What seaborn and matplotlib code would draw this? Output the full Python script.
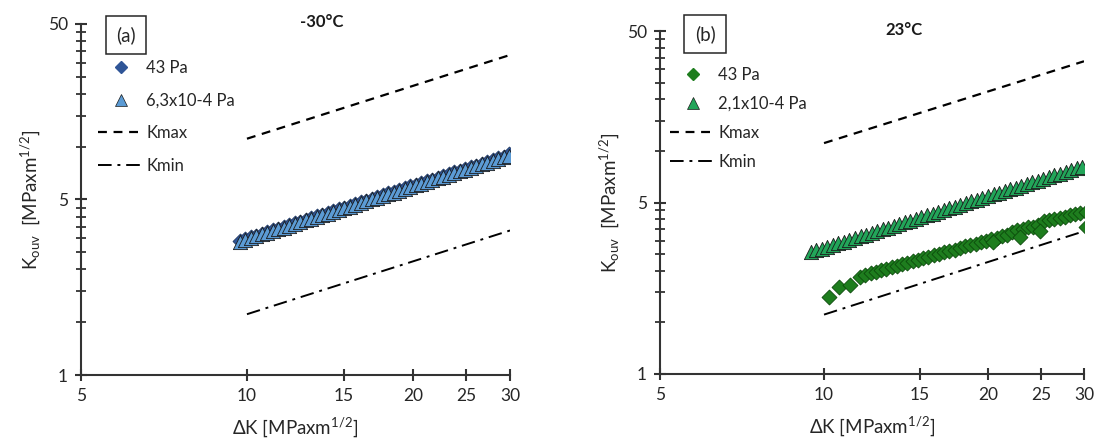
import matplotlib
matplotlib.use("Agg")
import matplotlib.pyplot as plt
from matplotlib.lines import Line2D
from matplotlib.ticker import FixedLocator, FixedFormatter, NullFormatter
import seaborn as sns

# ---------------- data ----------------
# panel (a) -30°C
dk_a = [9.70, 9.93, 10.16, 10.39, 10.63, 10.88, 11.13, 11.39, 11.66, 11.93,
        12.21, 12.49, 12.78, 13.08, 13.38, 13.69, 14.01, 14.34, 14.67, 15.01,
        15.36, 15.72, 16.08, 16.46, 16.84, 17.23, 17.63, 18.04, 18.46, 18.89,
        19.33, 19.78, 20.24, 20.71, 21.19, 21.69, 22.19, 22.71, 23.24, 23.78,
        24.33, 24.90, 25.48, 26.07, 26.68, 27.30, 27.93, 28.58, 29.25, 29.93]
k_a_43 = [2.90, 2.97, 3.04, 3.11, 3.18, 3.26, 3.33, 3.41, 3.49, 3.57,
          3.66, 3.74, 3.83, 3.92, 4.01, 4.10, 4.20, 4.30, 4.40, 4.50,
          4.60, 4.71, 4.82, 4.93, 5.05, 5.17, 5.29, 5.41, 5.53, 5.66,
          5.79, 5.93, 6.07, 6.21, 6.35, 6.50, 6.65, 6.81, 6.97, 7.13,
          7.30, 7.47, 7.64, 7.81, 7.99, 8.18, 8.37, 8.57, 8.78, 9.05]
k_a_vac = [2.88, 2.95, 3.02, 3.09, 3.16, 3.23, 3.31, 3.38, 3.46, 3.54,
           3.63, 3.71, 3.80, 3.88, 3.97, 4.07, 4.16, 4.26, 4.36, 4.46,
           4.56, 4.67, 4.78, 4.89, 5.00, 5.12, 5.24, 5.36, 5.48, 5.61,
           5.74, 5.87, 6.01, 6.15, 6.29, 6.44, 6.59, 6.74, 6.90, 7.06,
           7.23, 7.40, 7.57, 7.74, 7.92, 8.11, 8.30, 8.49, 8.69, 8.89]
dk_line_a = [10.0, 30.0]
kmax_a = [11.1, 33.3]
kmin_a = [1.11, 3.33]

# panel (b) 23°C
dk_b_43 = [10.20, 10.66, 11.14, 11.65, 11.91, 12.18, 12.45, 12.73, 13.02, 13.31,
           13.61, 13.91, 14.22, 14.54, 14.87, 15.20, 15.54, 15.89, 16.25, 16.61,
           16.98, 17.36, 17.75, 18.15, 18.56, 18.97, 19.40, 19.83, 20.28, 20.73,
           21.20, 21.67, 22.16, 22.65, 23.16, 23.68, 24.21, 24.75, 25.31, 25.87,
           26.45, 27.05, 27.65, 28.27, 28.91, 29.55, 30.20,
           20.40, 22.90, 24.96, 30.20]
k_b_43 = [1.40, 1.60, 1.66, 1.84, 1.90, 1.94, 1.97, 2.01, 2.05, 2.10,
          2.14, 2.18, 2.22, 2.27, 2.31, 2.36, 2.41, 2.46, 2.51, 2.56,
          2.61, 2.66, 2.71, 2.77, 2.82, 2.88, 2.94, 3.00, 3.06, 3.12,
          3.18, 3.25, 3.38, 3.45, 3.52, 3.58, 3.62, 3.70, 3.90, 3.96,
          4.02, 4.08, 4.14, 4.20, 4.27, 4.34, 4.40,
          2.94, 3.15, 3.41, 3.60]
dk_b_vac = [9.45, 9.67, 9.90, 10.14, 10.38, 10.62, 10.88, 11.13, 11.40, 11.67,
            11.94, 12.23, 12.52, 12.81, 13.12, 13.43, 13.74, 14.07, 14.40, 14.74,
            15.09, 15.45, 15.82, 16.19, 16.58, 16.97, 17.37, 17.78, 18.20, 18.64,
            19.08, 19.53, 19.99, 20.47, 20.95, 21.45, 21.96, 22.48, 23.01, 23.55,
            24.11, 24.68, 25.27, 25.87, 26.48, 27.11, 27.75, 28.41, 29.08, 29.77]
k_b_vac = [2.57, 2.63, 2.69, 2.76, 2.82, 2.89, 2.96, 3.03, 3.10, 3.17,
           3.25, 3.33, 3.41, 3.48, 3.57, 3.65, 3.74, 3.83, 3.92, 4.01,
           4.10, 4.20, 4.30, 4.40, 4.51, 4.62, 4.72, 4.84, 4.95, 5.07,
           5.19, 5.31, 5.44, 5.57, 5.70, 5.83, 5.97, 6.11, 6.26, 6.41,
           6.56, 6.71, 6.87, 7.04, 7.20, 7.37, 7.55, 7.73, 7.91, 8.10]
dk_line_b = [10.0, 30.0]
kmax_b = [11.1, 33.3]
kmin_b = [1.11, 3.40]

x_ticks = [5, 10, 15, 20, 25, 30]
x_ticklabels = ["5", "10", "15", "20", "25", "30"]
y_ticks = [0.5, 5, 50]
y_ticklabels = ["1", "5", "50"]
y_minor = [1, 1.5, 2, 2.5, 3, 3.5, 4, 4.5, 10, 15, 20, 25, 30, 35, 40, 45]

# ---------------- style ----------------
sns.set_theme(style="white")
spine_col = "#333333"
plt.rcParams.update({
    "font.family": ["Lato", "DejaVu Sans"],
    "mathtext.fontset": "custom",
    "mathtext.rm": "Lato",
    "mathtext.it": "Lato:italic",
    "xtick.labelsize": 12.5, "ytick.labelsize": 12.5,
})

W, H = 1098, 443
fig = plt.figure(figsize=(W / 100, H / 100), dpi=100)

def ax_rect(l, t, r, b):
    return [l / W, 1 - b / H, (r - l) / W, (b - t) / H]

axA = fig.add_axes(ax_rect(81, 24, 510, 375))
axB = fig.add_axes(ax_rect(660, 31, 1084, 374))

def style_axis(ax):
    ax.set_xscale("log")
    ax.set_yscale("log")
    ax.set_xlim(5, 30)
    ax.set_ylim(0.5, 50)
    ax.xaxis.set_major_locator(FixedLocator(x_ticks))
    ax.xaxis.set_major_formatter(FixedFormatter(x_ticklabels))
    ax.xaxis.set_minor_locator(FixedLocator([]))
    ax.xaxis.set_minor_formatter(NullFormatter())
    ax.yaxis.set_major_locator(FixedLocator(y_ticks))
    ax.yaxis.set_major_formatter(FixedFormatter(y_ticklabels))
    ax.yaxis.set_minor_locator(FixedLocator(y_minor))
    ax.yaxis.set_minor_formatter(NullFormatter())
    for s in ["top", "right"]:
        ax.spines[s].set_visible(False)
    for s in ["left", "bottom"]:
        ax.spines[s].set_color(spine_col)
        ax.spines[s].set_linewidth(1.5)
    ax.tick_params(axis="both", which="both", bottom=True, left=True,
                   top=False, right=False, direction="inout", color=spine_col,
                   labelcolor="#262626")
    ax.tick_params(axis="both", which="major", length=9, width=1.5, pad=5)
    ax.tick_params(axis="y", which="minor", length=7, width=1.3)
    ax.set_xlabel(r"ΔK [MPaxm$^{1/2}$]", fontsize=13.5, color="#262626", labelpad=8)
    ax.set_ylabel(r"K$_{\rm ouv}$  [MPaxm$^{1/2}$]", fontsize=13.5,
                  color="#262626", labelpad=4)

def draw_panel(ax, dk43, k43, dkv, kv, dkl, kmax, kmin,
               c43, e43, cv, ev, lab43, labv):
    sns.lineplot(x=dkl, y=kmax, ax=ax, color="black", linestyle=(0, (4, 3)),
                 linewidth=1.6, estimator=None, sort=False)
    sns.lineplot(x=dkl, y=kmin, ax=ax, color="black",
                 linestyle=(0, (7, 3, 1.5, 3)), linewidth=1.4,
                 estimator=None, sort=False)
    sns.scatterplot(x=dk43, y=k43, ax=ax, marker="D", s=58, color=c43,
                    edgecolor=e43, linewidth=0.6, zorder=3)
    sns.scatterplot(x=dkv, y=kv, ax=ax, marker="^", s=105, color=cv,
                    edgecolor=ev, linewidth=0.6, zorder=4)
    handles = [
        Line2D([], [], marker="D", color="none", markerfacecolor=c43,
               markeredgecolor=c43, markersize=6.5, label=lab43),
        Line2D([], [], marker="^", color="none", markerfacecolor=cv,
               markeredgecolor=ev, markeredgewidth=0.5, markersize=9, label=labv),
        Line2D([], [], color="black", linestyle=(0, (4, 3)), linewidth=1.6,
               label="Kmax"),
        Line2D([], [], color="black", linestyle=(0, (7, 3, 1.5, 3)),
               linewidth=1.4, label="Kmin"),
    ]
    return handles

hA = draw_panel(axA, dk_a, k_a_43, dk_a, k_a_vac, dk_line_a, kmax_a, kmin_a,
                "#2F5597", "#1F3864", "#5B9BD5", "#1a1a1a",
                "43 Pa", "6,3x10-4 Pa")
hB = draw_panel(axB, dk_b_43, k_b_43, dk_b_vac, k_b_vac, dk_line_b, kmax_b, kmin_b,
                "#1E7D1E", "#0B4A0B", "#22A559", "#1a1a1a",
                "43 Pa", "2,1x10-4 Pa")

for ax in (axA, axB):
    style_axis(ax)

legA = axA.legend(handles=hA, loc="upper left", frameon=False,
                  bbox_to_anchor=(98 / W, 1 - 60 / H), bbox_transform=fig.transFigure,
                  fontsize=12, handlelength=2.7, handletextpad=0.2,
                  labelspacing=1.0, borderaxespad=0, borderpad=0)
legB = axB.legend(handles=hB, loc="upper left", frameon=False,
                  bbox_to_anchor=(670 / W, 1 - 67 / H), bbox_transform=fig.transFigure,
                  fontsize=12, handlelength=2.7, handletextpad=0.2,
                  labelspacing=0.78, borderaxespad=0, borderpad=0)
for leg in (legA, legB):
    for t in leg.get_texts():
        t.set_color("#262626")

# panel tags
fig.text(126 / W, 1 - 35 / H, "(a)", fontsize=13.5, ha="center", va="center",
         color="#262626",
         bbox=dict(boxstyle="square,pad=0.55", facecolor="white",
                   edgecolor="#262626", linewidth=1.1))
fig.text(705 / W, 1 - 34 / H, "(b)", fontsize=13.5, ha="center", va="center",
         color="#262626",
         bbox=dict(boxstyle="square,pad=0.55", facecolor="white",
                   edgecolor="#262626", linewidth=1.1))

# temperatures
fig.text(322 / W, 1 - 22 / H, "-30°C", fontsize=12, fontweight="bold",
         ha="center", va="center", color="#1a1a1a")
fig.text(904 / W, 1 - 30 / H, "23°C", fontsize=12, fontweight="bold",
         ha="center", va="center", color="#1a1a1a")

fig.savefig("out.png", dpi=100)
